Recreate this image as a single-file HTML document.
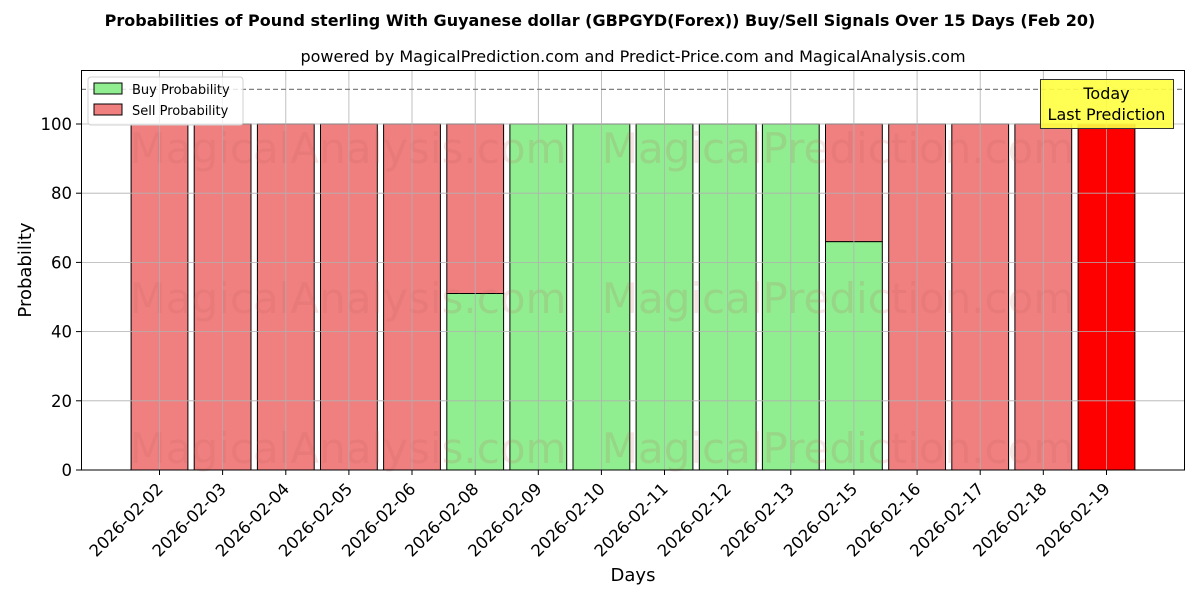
<!DOCTYPE html>
<html><head><meta charset="utf-8"><style>body{margin:0;background:#fff}svg{display:block;font-family:"DejaVu Sans","Liberation Sans",sans-serif}</style></head><body>
<svg width="1200" height="600" viewBox="0 0 1200 600" xmlns="http://www.w3.org/2000/svg">
<rect width="1200" height="600" fill="#fff"/>
<text x="600" y="26" text-anchor="middle" font-size="16" font-weight="bold">Probabilities of Pound sterling With Guyanese dollar (GBPGYD(Forex)) Buy/Sell Signals Over 15 Days (Feb 20)</text>
<text x="633" y="62" text-anchor="middle" font-size="16">powered by MagicalPrediction.com and Predict-Price.com and MagicalAnalysis.com</text>
<g stroke="#000" stroke-width="1">
<rect x="131.1" y="124" width="56.8" height="346" fill="#f08080"/>
<rect x="194.2" y="124" width="56.8" height="346" fill="#f08080"/>
<rect x="257.4" y="124" width="56.8" height="346" fill="#f08080"/>
<rect x="320.5" y="124" width="56.8" height="346" fill="#f08080"/>
<rect x="383.6" y="124" width="56.8" height="346" fill="#f08080"/>
<rect x="446.8" y="293.5" width="56.8" height="176.5" fill="#90ee90"/>
<rect x="446.8" y="124" width="56.8" height="169.5" fill="#f08080"/>
<rect x="509.9" y="124" width="56.8" height="346" fill="#90ee90"/>
<rect x="573.0" y="124" width="56.8" height="346" fill="#90ee90"/>
<rect x="636.1" y="124" width="56.8" height="346" fill="#90ee90"/>
<rect x="699.3" y="124" width="56.8" height="346" fill="#90ee90"/>
<rect x="762.4" y="124" width="56.8" height="346" fill="#90ee90"/>
<rect x="825.5" y="241.6" width="56.8" height="228.4" fill="#90ee90"/>
<rect x="825.5" y="124" width="56.8" height="117.6" fill="#f08080"/>
<rect x="888.7" y="124" width="56.8" height="346" fill="#f08080"/>
<rect x="951.8" y="124" width="56.8" height="346" fill="#f08080"/>
<rect x="1014.9" y="124" width="56.8" height="346" fill="#f08080"/>
<rect x="1078.1" y="124" width="56.8" height="346" fill="#ff0000"/>
</g>
<g font-size="42" fill="#c06060" fill-opacity="0.16" text-anchor="middle">
<text x="348" y="163">MagicalAnalysis.com</text><text x="838" y="163">MagicalPrediction.com</text>
<text x="348" y="313">MagicalAnalysis.com</text><text x="838" y="313">MagicalPrediction.com</text>
<text x="348" y="463">MagicalAnalysis.com</text><text x="838" y="463">MagicalPrediction.com</text>
</g>
<g stroke="#b0b0b0" stroke-width="0.8">
<line x1="159.5" y1="70" x2="159.5" y2="470"/><line x1="222.6" y1="70" x2="222.6" y2="470"/><line x1="285.8" y1="70" x2="285.8" y2="470"/><line x1="348.9" y1="70" x2="348.9" y2="470"/><line x1="412" y1="70" x2="412" y2="470"/><line x1="475.2" y1="70" x2="475.2" y2="470"/><line x1="538.3" y1="70" x2="538.3" y2="470"/><line x1="601.4" y1="70" x2="601.4" y2="470"/><line x1="664.5" y1="70" x2="664.5" y2="470"/><line x1="727.7" y1="70" x2="727.7" y2="470"/><line x1="790.8" y1="70" x2="790.8" y2="470"/><line x1="853.9" y1="70" x2="853.9" y2="470"/><line x1="917.1" y1="70" x2="917.1" y2="470"/><line x1="980.2" y1="70" x2="980.2" y2="470"/><line x1="1043.3" y1="70" x2="1043.3" y2="470"/><line x1="1106.5" y1="70" x2="1106.5" y2="470"/>
<line x1="81" y1="400.8" x2="1185" y2="400.8"/><line x1="81" y1="331.6" x2="1185" y2="331.6"/><line x1="81" y1="262.4" x2="1185" y2="262.4"/><line x1="81" y1="193.2" x2="1185" y2="193.2"/><line x1="81" y1="124" x2="1185" y2="124"/>
</g>
<line x1="81" y1="89.4" x2="1185" y2="89.4" stroke="#808080" stroke-width="1.2" stroke-dasharray="5,3"/>
<rect x="81.5" y="70.5" width="1103" height="399.5" fill="none" stroke="#000" stroke-width="1"/>
<g stroke="#000"><line x1="76" y1="470" x2="81" y2="470"/><line x1="76" y1="400.8" x2="81" y2="400.8"/><line x1="76" y1="331.6" x2="81" y2="331.6"/><line x1="76" y1="262.4" x2="81" y2="262.4"/><line x1="76" y1="193.2" x2="81" y2="193.2"/><line x1="76" y1="124" x2="81" y2="124"/></g>
<g font-size="16.5" text-anchor="end"><text x="72" y="476">0</text><text x="72" y="407">20</text><text x="72" y="337.5">40</text><text x="72" y="268.5">60</text><text x="72" y="199">80</text><text x="72" y="130">100</text></g>
<text x="31" y="270" font-size="18" text-anchor="middle" transform="rotate(-90 31 270)">Probability</text>
<text x="633" y="581" font-size="18" text-anchor="middle">Days</text>
<g font-size="16.5" text-anchor="end">
<text transform="translate(164,490) rotate(-45)">2026-02-02</text><text transform="translate(227.1,490) rotate(-45)">2026-02-03</text><text transform="translate(290.3,490) rotate(-45)">2026-02-04</text><text transform="translate(353.4,490) rotate(-45)">2026-02-05</text><text transform="translate(416.5,490) rotate(-45)">2026-02-06</text><text transform="translate(479.7,490) rotate(-45)">2026-02-08</text><text transform="translate(542.8,490) rotate(-45)">2026-02-09</text><text transform="translate(605.9,490) rotate(-45)">2026-02-10</text><text transform="translate(669,490) rotate(-45)">2026-02-11</text><text transform="translate(732.2,490) rotate(-45)">2026-02-12</text><text transform="translate(795.3,490) rotate(-45)">2026-02-13</text><text transform="translate(858.4,490) rotate(-45)">2026-02-15</text><text transform="translate(921.6,490) rotate(-45)">2026-02-16</text><text transform="translate(984.7,490) rotate(-45)">2026-02-17</text><text transform="translate(1047.8,490) rotate(-45)">2026-02-18</text><text transform="translate(1111,490) rotate(-45)">2026-02-19</text>
</g>
<g stroke="#000"><line x1="159.5" y1="470" x2="159.5" y2="475"/><line x1="222.6" y1="470" x2="222.6" y2="475"/><line x1="285.8" y1="470" x2="285.8" y2="475"/><line x1="348.9" y1="470" x2="348.9" y2="475"/><line x1="412" y1="470" x2="412" y2="475"/><line x1="475.2" y1="470" x2="475.2" y2="475"/><line x1="538.3" y1="470" x2="538.3" y2="475"/><line x1="601.4" y1="470" x2="601.4" y2="475"/><line x1="664.5" y1="470" x2="664.5" y2="475"/><line x1="727.7" y1="470" x2="727.7" y2="475"/><line x1="790.8" y1="470" x2="790.8" y2="475"/><line x1="853.9" y1="470" x2="853.9" y2="475"/><line x1="917.1" y1="470" x2="917.1" y2="475"/><line x1="980.2" y1="470" x2="980.2" y2="475"/><line x1="1043.3" y1="470" x2="1043.3" y2="475"/><line x1="1106.5" y1="470" x2="1106.5" y2="475"/></g>
<rect x="88" y="77" width="155" height="48" rx="3" fill="#fff" fill-opacity="0.8" stroke="#d0d0d0"/>
<rect x="94" y="83" width="28" height="11" fill="#90ee90" stroke="#000"/>
<rect x="94" y="104" width="28" height="11" fill="#f08080" stroke="#000"/>
<text x="132" y="94" font-size="13">Buy Probability</text>
<text x="132" y="115" font-size="13">Sell Probability</text>
<rect x="1040.5" y="79.5" width="133" height="49" fill="#ffff40" fill-opacity="0.9" stroke="#333"/>
<text x="1106.5" y="99" font-size="16" text-anchor="middle">Today</text>
<text x="1106.5" y="120" font-size="16" text-anchor="middle">Last Prediction</text>
</svg>
</body></html>
